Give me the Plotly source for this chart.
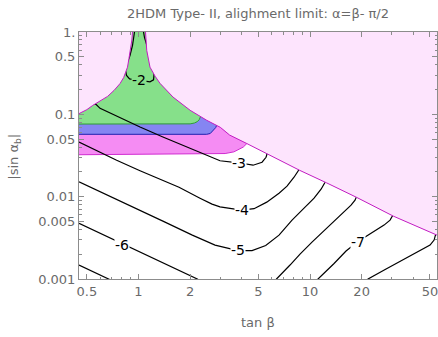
import math
import plotly.graph_objects as go

# ---------------- data ----------------
X_RANGE = [0.45, 55.0]      # tan beta
Y_RANGE = [0.001, 1.0]      # |sin alpha_b|

X_TICKS = [0.5, 1, 2, 5, 10, 20, 50]
X_TICK_TEXT = ["0.5", "1", "2", "5", "10", "20", "50"]
X_MINOR = [0.6, 0.7, 0.8, 0.9, 3, 4, 6, 7, 8, 9, 30, 40]
Y_TICKS = [0.001, 0.005, 0.01, 0.05, 0.1, 0.5, 1]
Y_TICK_TEXT = ["0.001", "0.005", "0.01", "0.05", "0.1", "0.5", "1."]
Y_MINOR = [0.002, 0.003, 0.004, 0.006, 0.007, 0.008, 0.009,
           0.02, 0.03, 0.04, 0.06, 0.07, 0.08, 0.09,
           0.2, 0.3, 0.4, 0.6, 0.7, 0.8, 0.9]

# excluded-region boundary: left branch of the funnel (from frame up to top)
LEFT_EDGE_T = [0.45, 0.50, 0.54, 0.60, 0.66, 0.72, 0.78, 0.82, 0.863, 0.88, 0.898, 0.915, 0.923]
LEFT_EDGE_S = [0.102, 0.114, 0.128, 0.145, 0.165, 0.195, 0.236, 0.28, 0.374, 0.477, 0.597, 0.80, 1.0]
# right branch of the funnel continuing into the diagonal boundary
RIGHT_EDGE_T = [1.099, 1.117, 1.167, 1.25, 1.335, 1.59, 2.0, 2.5, 3.0, 3.4, 4.28, 8.7, 12.5, 18.7, 30.6, 55.0]
RIGHT_EDGE_S = [1.0, 0.60, 0.374, 0.29, 0.238, 0.162, 0.112, 0.0846, 0.0695, 0.056, 0.0442,
                0.0209, 0.0147, 0.0098, 0.0058, 0.00341]

# lower edges of the coloured bands
GREEN_LOW_T = [0.45, 1.0, 2.0, 2.12, 2.2, 2.26, 2.3, 2.4]
GREEN_LOW_S = [0.0762, 0.0764, 0.0766, 0.0785, 0.0815, 0.086, 0.094, 0.13]
BLUE_LOW_T = [0.45, 1.0, 2.5, 2.62, 2.72, 2.82, 2.9, 3.0]
BLUE_LOW_S = [0.0572, 0.0572, 0.0572, 0.0585, 0.063, 0.069, 0.08, 0.10]
MAGENTA_LOW_T = [0.45, 1.0, 2.0, 3.2, 3.6, 4.08, 4.3, 4.5]
MAGENTA_LOW_S = [0.0323, 0.0326, 0.033, 0.0334, 0.035, 0.040, 0.0445, 0.06]

# contour lines (level -> pieces)
C2_T = [0.948, 0.923, 0.892, 0.857, 0.840, 0.852, 0.887, 1.007, 1.167, 1.224, 1.232, 1.207, 1.160, 1.114, 1.084, 1.070]
C2_S = [1.0, 0.686, 0.519, 0.415, 0.341, 0.297, 0.269, 0.258, 0.248, 0.262, 0.305, 0.404, 0.534, 0.686, 0.858, 1.0]
C3_T = [0.53, 0.565, 0.597, 0.780, 1.021, 1.377, 1.911, 2.443, 2.988, 3.83, 4.655, 5.253, 5.542, 5.654, 5.72]
C3_S = [0.138, 0.1322, 0.1182, 0.0907, 0.0701, 0.0534, 0.0401, 0.0327, 0.0273, 0.0258, 0.0241, 0.0262, 0.0301, 0.0346, 0.037]
C4_T = [0.45, 0.563, 0.746, 1.021, 1.723, 2.284, 2.684, 2.988, 3.988, 4.717, 5.594, 6.597, 7.345, 8.069, 8.40, 8.69, 8.8]
C4_S = [0.0461, 0.0366, 0.0277, 0.02066, 0.01304, 0.00959, 0.00811, 0.00752, 0.00686, 0.00715, 0.00858,
        0.01103, 0.01341, 0.01723, 0.01982, 0.02185, 0.024]
C5_T = [0.45, 0.682, 1.021, 1.428, 2.060, 2.795, 3.804, 4.592, 5.519, 6.597, 7.857, 9.23, 10.56, 11.60, 12.24, 12.4]
C5_S = [0.01511, 0.01014, 0.00686, 0.00491, 0.00341, 0.00258, 0.002216, 0.002216, 0.002547, 0.00341,
        0.00519, 0.00725, 0.00959, 0.01233, 0.01499, 0.0165]
C6A_T = [0.45, 0.805, 1.335, 2.203, 2.25]
C6A_S = [0.004733, 0.002694, 0.001653, 0.001, 0.00097]
C6B_T = [6.3, 6.379, 7.648, 8.745, 10.27, 12.74, 15.37, 17.35, 18.30, 18.93, 19.1]
C6B_S = [0.00097, 0.001, 0.001478, 0.002009, 0.00281, 0.00427, 0.00614, 0.00789, 0.00907, 0.01043, 0.0112]
C7A_T = [0.45, 0.673, 0.69]
C7A_S = [0.001478, 0.001, 0.00097]
C7B_T = [11.0, 11.14, 13.81, 16.22, 19.05, 23.0, 27.02, 29.29, 30.69, 30.9]
C7B_S = [0.00097, 0.001, 0.001541, 0.002185, 0.002847, 0.003611, 0.004513, 0.00519, 0.00614, 0.0066]
C8_T = [21.5, 21.79, 27.76, 35.83, 43.80, 50.1, 52.9, 54.3, 55.0]
C8_S = [0.00097, 0.001, 0.001322, 0.001748, 0.002185, 0.00258, 0.00297, 0.00351, 0.0040]

LABEL_TEXT = ["-2", "-3", "-4", "-5", "-6", "-7"]
LABEL_T = [1.007, 3.83, 3.99, 3.80, 0.805, 19.05]
LABEL_S = [0.262, 0.0258, 0.00686, 0.002246, 0.00258, 0.00281]

# ---------------- styles ----------------
PINK = "#fde4fd"
PINK_LINE = "#c21cc2"
GREEN = "#86e08a"
GREEN_LINE = "#2e9e34"
BLUE = "#8585f2"
BLUE_LINE = "#2020b0"
MAGENTA = "#f58cf3"
MAGENTA_LINE = "#d02ad0"
GRAY = "#6a6a6a"
FRAME = "#8c8c8c"
FONT = "DejaVu Sans"

fig = go.Figure()

def band(low_t, low_s, color):
    xs = list(low_t) + [low_t[-1], X_RANGE[0]]
    ys = list(low_s) + [Y_RANGE[1], Y_RANGE[1]]
    fig.add_trace(go.Scatter(x=xs, y=ys, fill="toself", fillcolor=color, mode="lines",
                             line=dict(width=0, color=color), hoverinfo="skip", showlegend=False))

def line(ts, ss, color, width=1.0):
    fig.add_trace(go.Scatter(x=ts, y=ss, mode="lines", line=dict(color=color, width=width),
                             hoverinfo="skip", showlegend=False))

# bands
band(MAGENTA_LOW_T, MAGENTA_LOW_S, MAGENTA)
band(BLUE_LOW_T, BLUE_LOW_S, BLUE)
band(GREEN_LOW_T, GREEN_LOW_S, GREEN)
line(MAGENTA_LOW_T, MAGENTA_LOW_S, MAGENTA_LINE)
line(BLUE_LOW_T, BLUE_LOW_S, BLUE_LINE)
line(GREEN_LOW_T, GREEN_LOW_S, GREEN_LINE)

# contour lines
for ts, ss in [(C2_T, C2_S), (C3_T, C3_S), (C4_T, C4_S), (C5_T, C5_S),
               (C6A_T, C6A_S), (C6B_T, C6B_S), (C7A_T, C7A_S), (C7B_T, C7B_S), (C8_T, C8_S)]:
    line(ts, ss, "black", 1.2)

# excluded region (drawn on top)
left_x = [X_RANGE[0]] + LEFT_EDGE_T
left_y = [Y_RANGE[1]] + LEFT_EDGE_S
right_x = RIGHT_EDGE_T + [X_RANGE[1]]
right_y = RIGHT_EDGE_S + [Y_RANGE[1]]
fig.add_trace(go.Scatter(x=left_x, y=left_y, fill="toself", fillcolor=PINK, mode="lines",
                         line=dict(width=0, color=PINK), hoverinfo="skip", showlegend=False))
fig.add_trace(go.Scatter(x=right_x, y=right_y, fill="toself", fillcolor=PINK, mode="lines",
                         line=dict(width=0, color=PINK), hoverinfo="skip", showlegend=False))
line(LEFT_EDGE_T, LEFT_EDGE_S, PINK_LINE, 1.0)
line(RIGHT_EDGE_T, RIGHT_EDGE_S, PINK_LINE, 1.0)

# contour labels
for txt, t, s in zip(LABEL_TEXT, LABEL_T, LABEL_S):
    fig.add_annotation(x=math.log10(t), y=math.log10(s), text=txt, showarrow=False,
                       font=dict(family=FONT, size=14, color="black"),
                       bgcolor=GREEN if txt == "-2" else "white", borderpad=0)

axis_common = dict(type="log", showgrid=False, zeroline=False, showline=True, linecolor=FRAME,
                   linewidth=1, mirror="allticks", ticks="inside", ticklen=5, tickcolor=FRAME,
                   ticklabeloverflow="allow",
                   tickfont=dict(family=FONT, size=13, color=GRAY))
fig.update_xaxes(range=[math.log10(X_RANGE[0]), math.log10(X_RANGE[1])],
                 tickvals=X_TICKS, ticktext=X_TICK_TEXT,
                 minor=dict(tickvals=X_MINOR, ticks="inside", ticklen=2.5, tickcolor=FRAME, showgrid=False),
                 **axis_common)
fig.update_yaxes(range=[math.log10(Y_RANGE[0]), math.log10(Y_RANGE[1])],
                 tickvals=Y_TICKS, ticktext=Y_TICK_TEXT,
                 minor=dict(tickvals=Y_MINOR, ticks="inside", ticklen=2.5, tickcolor=FRAME, showgrid=False),
                 **axis_common)

fig.add_annotation(xref="paper", yref="paper", x=0.5, y=-0.178, text="tan β", showarrow=False,
                   font=dict(family=FONT, size=13, color=GRAY), yanchor="middle")
fig.add_annotation(xref="paper", yref="paper", x=-0.179, y=0.495, text="|sin α<sub>b</sub>|",
                   textangle=-90, showarrow=False, font=dict(family=FONT, size=13, color=GRAY),
                   xanchor="center", yanchor="middle")

fig.update_layout(
    width=438, height=337,
    margin=dict(l=79, r=1, t=32, b=58),
    paper_bgcolor="white", plot_bgcolor="white",
    title=dict(text="2HDM Type- II, alighment limit: α=β- π/2", x=0.5, xref="paper",
               y=1 - 13 / 337, yref="container", yanchor="middle",
               font=dict(family=FONT, size=13, color=GRAY)),
)

fig.write_html("out.html")
